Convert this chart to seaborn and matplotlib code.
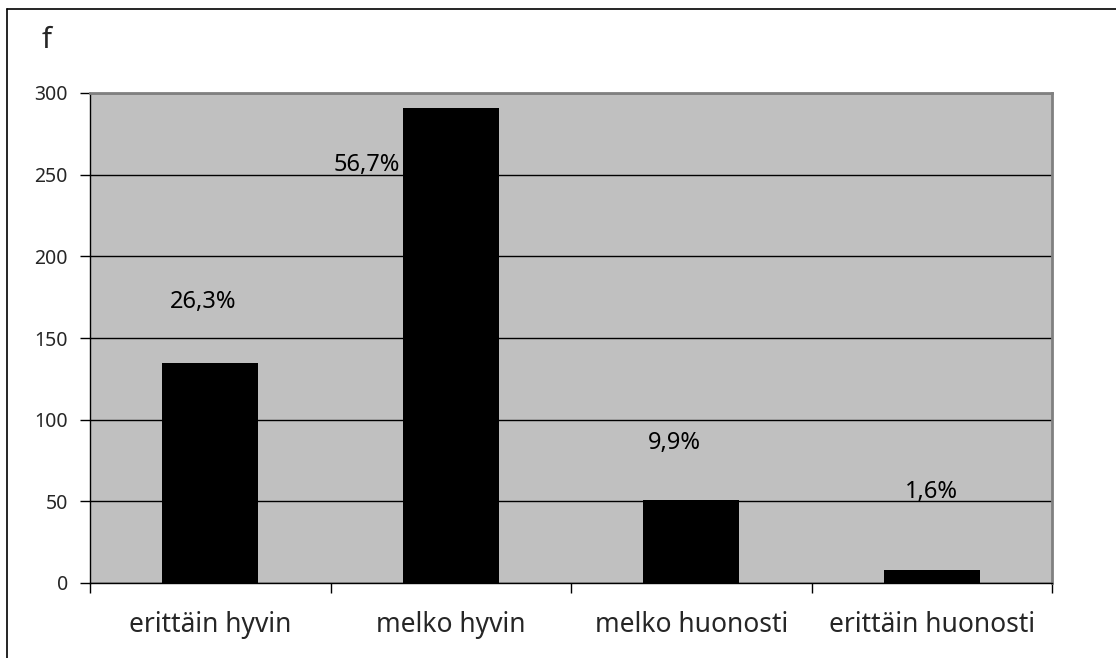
import numpy as np
import pandas as pd
import seaborn as sns
import matplotlib
matplotlib.use("Agg")
from matplotlib import pyplot as plt
from matplotlib.lines import Line2D

# data
categories = ['erittäin hyvin', 'melko hyvin', 'melko huonosti', 'erittäin huonosti']
counts = [135, 291, 51, 8]
pct_labels = ['26,3%', '56,7%', '9,9%', '1,6%']
# where the percent labels sit (value units / category offsets)
label_y = [172, 256, 86, 56]
label_dx = [-0.03, -0.35, -0.07, 0.0]
y_ticks = [0, 50, 100, 150, 200, 250, 300]

sns.set_style("white")
plt.rcParams['font.family'] = ['Noto Sans', 'DejaVu Sans']

W, H = 1116, 658
fig = plt.figure(figsize=(W / 100, H / 100), dpi=100)
ax = fig.add_axes([90 / W, (H - 583) / H, 962 / W, 490 / H])

df = pd.DataFrame({'cat': categories, 'n': counts})
sns.barplot(data=df, x='cat', y='n', color='black', width=0.4, saturation=1,
			edgecolor='black', linewidth=0, ax=ax, zorder=3)

ax.set_facecolor('#C0C0C0')
ax.set_ylim(0, 300)
ax.set_xlim(-0.5, 3.5)
ax.set_yticks(y_ticks)
ax.set_yticklabels([str(t) for t in y_ticks], fontsize=14)
ax.yaxis.grid(True, color='black', linewidth=1, zorder=1)
ax.set_axisbelow(True)

# category separators as major ticks, names as minor ticks
ax.set_xticks(np.arange(len(categories) + 1) - 0.5)
ax.set_xticklabels([])
ax.set_xticks(np.arange(len(categories)), minor=True)
ax.set_xticklabels(categories, minor=True, fontsize=19)
ax.tick_params(axis='x', which='major', length=7, width=1, color='black', direction='out', bottom=True)
ax.tick_params(axis='x', which='minor', length=0, pad=20)
ax.tick_params(axis='y', length=7, width=1, color='black', direction='out', pad=9, left=True)

ax.set_xlabel('')
ax.set_ylabel('')

for s in ['left', 'bottom']:
	ax.spines[s].set_color('black')
	ax.spines[s].set_linewidth(1)
for s in ['top', 'right']:
	ax.spines[s].set_color('#808080')
	ax.spines[s].set_linewidth(2)

for i, (txt, yy, dx) in enumerate(zip(pct_labels, label_y, label_dx)):
	ax.text(i + dx, yy, txt, ha='center', va='center', fontsize=17, color='black', zorder=4)

fig.text(47 / W, 1 - 40 / H, 'f', ha='center', va='center', fontsize=21)

# outer frame (only left and top visible)
fig.add_artist(Line2D([7 / W, 7 / W], [0, 1 - 9 / H], color='black', linewidth=1.2, transform=fig.transFigure))
fig.add_artist(Line2D([7 / W, 1], [1 - 9 / H, 1 - 9 / H], color='black', linewidth=1.2, transform=fig.transFigure))

fig.savefig('out.png', dpi=100, facecolor='white')
